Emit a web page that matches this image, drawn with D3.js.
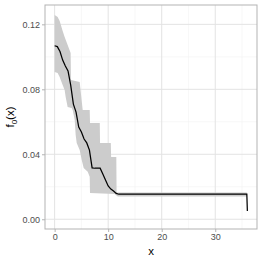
<!DOCTYPE html>
<html>
<head>
<meta charset="utf-8">
<script src="https://cdn.jsdelivr.net/npm/d3@7"></script>
<style>
  body { margin: 0; background: #fff; }
  text { font-family: "Liberation Sans", Arial, sans-serif; }
</style>
</head>
<body>
<svg id="chart" width="263" height="263"></svg>
<script>
// posterior mean of f0(x)
let line_x = [0, 0.5, 1, 1.5, 2, 2.5, 3, 3.5, 4, 4.5, 5, 5.5, 6, 6.5, 7, 7.5, 8, 8.5, 9, 9.5, 10, 10.5, 11, 11.5, 12, 35.9, 36];
let line_y = [0.1068, 0.1063, 0.1033, 0.098, 0.0943, 0.0913, 0.0826, 0.0709, 0.066, 0.0568, 0.0537, 0.0494, 0.047, 0.0426, 0.0316, 0.0314, 0.0314, 0.0314, 0.0279, 0.0242, 0.0205, 0.0186, 0.0174, 0.0159, 0.0154, 0.0154, 0.0051];

// band: upper and lower limits
let upper_x = [0, 0.56, 0.94, 1.5, 1.87, 2.43, 2.99, 3.05, 4.68, 5.24, 6.55, 6.61, 8.43, 8.48, 10.49, 10.55, 11.52, 11.57, 35.9];
let upper_y = [0.1257, 0.1245, 0.122, 0.1159, 0.1122, 0.1073, 0.1023, 0.0857, 0.0845, 0.0673, 0.0673, 0.0593, 0.0593, 0.047, 0.047, 0.0384, 0.0384, 0.0165, 0.0165];
let lower_x = [0, 0.56, 0.94, 1.5, 1.87, 2.06, 2.43, 3.18, 3.37, 3.75, 3.93, 4.12, 4.68, 5.06, 5.43, 6.18, 6.55, 6.61, 11.2, 11.8, 35.9];
let lower_y = [0.0907, 0.09, 0.0876, 0.0826, 0.0796, 0.0753, 0.0691, 0.0685, 0.0673, 0.0611, 0.0519, 0.047, 0.0426, 0.0365, 0.0316, 0.0292, 0.0262, 0.0162, 0.0155, 0.014, 0.014];

let x_ticks = [0, 10, 20, 30];
let x_minor = [5, 15, 25, 35];
let y_ticks = [0, 0.04, 0.08, 0.12];
let y_minor = [0.02, 0.06, 0.1];

let svg = d3.select("#chart");
let p_left = 45, p_right = 257, p_top = 5, p_bottom = 229;

let x = d3.scaleLinear().domain([-1.8, 37.8]).range([p_left, p_right]);
let y = d3.scaleLinear().domain([-0.006, 0.1319]).range([p_bottom, p_top]);

let grid = svg.append("g");
grid.selectAll(".xmin").data(x_minor).enter().append("line")
  .attr("x1", d => x(d)).attr("x2", d => x(d)).attr("y1", p_top).attr("y2", p_bottom)
  .attr("stroke", "#f2f2f2").attr("stroke-width", 0.6);
grid.selectAll(".ymin").data(y_minor).enter().append("line")
  .attr("x1", p_left).attr("x2", p_right).attr("y1", d => y(d)).attr("y2", d => y(d))
  .attr("stroke", "#f2f2f2").attr("stroke-width", 0.6);
grid.selectAll(".xmaj").data(x_ticks).enter().append("line")
  .attr("x1", d => x(d)).attr("x2", d => x(d)).attr("y1", p_top).attr("y2", p_bottom)
  .attr("stroke", "#e3e3e3").attr("stroke-width", 1);
grid.selectAll(".ymaj").data(y_ticks).enter().append("line")
  .attr("x1", p_left).attr("x2", p_right).attr("y1", d => y(d)).attr("y2", d => y(d))
  .attr("stroke", "#e3e3e3").attr("stroke-width", 1);

// band polygon
let band_pts = upper_x.map((d, i) => [d, upper_y[i]])
  .concat(lower_x.map((d, i) => [d, lower_y[i]]).reverse());
svg.append("path")
  .attr("d", d3.line().x(d => x(d[0])).y(d => y(d[1]))(band_pts) + "Z")
  .attr("fill", "#cccccc");

svg.append("path")
  .datum(line_x.map((d, i) => [d, line_y[i]]))
  .attr("d", d3.line().x(d => x(d[0])).y(d => y(d[1])))
  .attr("fill", "none")
  .attr("stroke", "#000")
  .attr("stroke-width", 1.25);

// panel border
svg.append("rect")
  .attr("x", p_left).attr("y", p_top).attr("width", p_right - p_left).attr("height", p_bottom - p_top)
  .attr("fill", "none").attr("stroke", "#b3b3b3").attr("stroke-width", 1);

let x_axis = svg.append("g")
  .attr("transform", "translate(0," + p_bottom + ")")
  .call(d3.axisBottom(x).tickValues(x_ticks).tickSize(3).tickPadding(2));
let y_axis = svg.append("g")
  .attr("transform", "translate(" + p_left + ",0)")
  .call(d3.axisLeft(y).tickValues(y_ticks).tickSize(3).tickPadding(2).tickFormat(d3.format(".2f")));
[x_axis, y_axis].forEach(function (a) {
  a.select(".domain").remove();
  a.selectAll("line").attr("stroke", "#b3b3b3");
  a.selectAll("text").attr("fill", "#4d4d4d").style("font-size", "9px");
});

svg.append("text")
  .attr("x", (p_left + p_right) / 2).attr("y", 255)
  .attr("text-anchor", "middle")
  .style("font-size", "11.5px")
  .text("x");

let yt = svg.append("text")
  .attr("transform", "translate(14," + (p_top + p_bottom) / 2 + ") rotate(-90)")
  .attr("text-anchor", "middle")
  .style("font-size", "11.5px");
yt.append("tspan").text("f");
yt.append("tspan").attr("dy", 3).style("font-size", "8px").text("0");
yt.append("tspan").attr("dy", -3).text("(x)");
</script>
</body>
</html>
